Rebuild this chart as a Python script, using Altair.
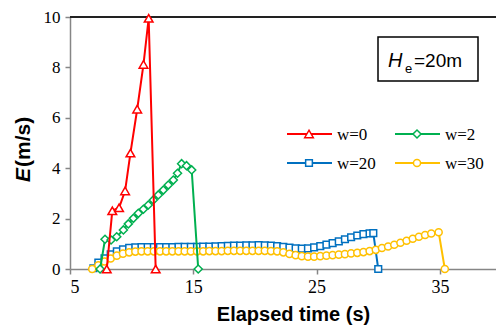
import altair as alt
import pandas as pd

# ---- data ----
t_w0 = [7.98, 8.43, 8.98, 9.47, 9.90, 10.45, 10.96, 11.38, 11.95]
e_w0 = [0.0, 2.31, 2.43, 3.10, 4.60, 6.34, 8.12, 9.95, 0.0]

t_w2 = [7.44, 7.84, 8.33, 8.79, 9.33, 9.73, 10.14, 10.54, 10.95, 11.35, 11.76,
        12.16, 12.57, 12.97, 13.38, 13.72, 14.05, 14.45, 14.87, 15.40]
e_w2 = [0.0, 1.18, 1.15, 1.28, 1.55, 1.79, 2.01, 2.21, 2.37, 2.54, 2.74,
        2.94, 3.13, 3.33, 3.53, 3.80, 4.18, 4.10, 3.93, 0.0]

t_w20 = [6.9, 7.3, 7.8, 8.3, 8.8, 9.3, 9.8, 10.3, 10.8, 11.3, 11.8, 12.3, 12.8,
         13.3, 13.8, 14.3, 14.8, 15.3, 15.8, 16.3, 16.8, 17.3, 17.8, 18.3, 18.8,
         19.3, 19.8, 20.3, 20.8, 21.3, 21.8, 22.3, 22.8, 23.3, 23.8, 24.3, 24.8,
         25.3, 25.8, 26.3, 26.8, 27.3, 27.8, 28.3, 28.8, 29.3, 29.6, 30.0]
e_w20 = [0.03, 0.25, 0.42, 0.58, 0.70, 0.78, 0.84, 0.86, 0.87, 0.87, 0.87, 0.87, 0.87,
         0.87, 0.88, 0.88, 0.88, 0.88, 0.89, 0.89, 0.90, 0.91, 0.92, 0.93, 0.93,
         0.94, 0.94, 0.95, 0.94, 0.93, 0.91, 0.88, 0.85, 0.82, 0.81, 0.82, 0.86,
         0.91, 0.97, 1.03, 1.10, 1.18, 1.26, 1.33, 1.38, 1.41, 1.42, 0.0]

t_w30 = [6.8, 7.3, 7.8, 8.3, 8.8, 9.3, 9.8, 10.3, 10.8, 11.3, 11.8, 12.3, 12.8,
         13.3, 13.8, 14.3, 14.8, 15.3, 15.8, 16.3, 16.8, 17.3, 17.8, 18.3, 18.8,
         19.3, 19.8, 20.3, 20.8, 21.3, 21.8, 22.3, 22.8, 23.3, 23.8, 24.3, 24.8,
         25.3, 25.8, 26.3, 26.8, 27.3, 27.8, 28.3, 28.8, 29.3, 29.8, 30.3, 30.8,
         31.3, 31.8, 32.3, 32.8, 33.3, 33.8, 34.3, 34.9, 35.4]
e_w30 = [0.0, 0.15, 0.30, 0.42, 0.53, 0.61, 0.66, 0.69, 0.70, 0.70, 0.70, 0.70, 0.70,
         0.70, 0.70, 0.70, 0.70, 0.70, 0.70, 0.71, 0.71, 0.71, 0.72, 0.72, 0.72,
         0.72, 0.72, 0.72, 0.72, 0.71, 0.70, 0.66, 0.60, 0.55, 0.51, 0.49, 0.49,
         0.51, 0.53, 0.55, 0.57, 0.59, 0.62, 0.64, 0.67, 0.71, 0.76, 0.83, 0.89,
         0.96, 1.04, 1.12, 1.20, 1.28, 1.35, 1.41, 1.46, 0.0]

series_names = ["w=0", "w=2", "w=20", "w=30"]
x_ticks = [5, 15, 25, 35]
y_ticks = [0, 2, 4, 6, 8, 10]

frames = []
for name, tt, ee in zip(series_names, [t_w0, t_w2, t_w20, t_w30], [e_w0, e_w2, e_w20, e_w30]):
    frames.append(pd.DataFrame({"t": tt, "E": ee, "series": name}))
df = pd.concat(frames, ignore_index=True)

# ---- styles ----
colors = {"w=0": "#FF0000", "w=2": "#00B050", "w=20": "#0070C0", "w=30": "#FFC000"}
shapes = {"w=0": "triangle-up", "w=2": "diamond", "w=20": "square", "w=30": "circle"}
sizes = {"w=0": 75, "w=2": 65, "w=20": 45, "w=30": 50}
legend_pos = {"w=0": (217, 117), "w=2": (325, 117), "w=20": (217, 146), "w=30": (325, 146)}

axis_style = dict(grid=False, domainColor="#868686", domainWidth=1.5, tickColor="#868686",
                  tickWidth=1.5, tickSize=5, labelFont="Liberation Serif",
                  labelColor="black")

xs = alt.X("t:Q", scale=alt.Scale(domain=[5, 39.55], nice=False, zero=False),
           axis=alt.Axis(values=x_ticks, title="Elapsed time (s)", titleX=223, titleY=51,
                         titleBaseline="alphabetic", titleAnchor="start", titleAlign="center",
                         titleFont="Liberation Sans", titleFontSize=20, titleFontWeight="bold",
                         titleColor="black", labelPadding=4, labelFontSize=18, **axis_style))
ys = alt.Y("E:Q", scale=alt.Scale(domain=[0, 10], nice=False),
           axis=alt.Axis(values=y_ticks, title=None, labelPadding=5, labelFontSize=17,
                         **axis_style))

dummy = pd.DataFrame({"a": [0]})
layers = []

# top border
layers.append(alt.Chart(dummy).mark_rule(color="#222222", strokeWidth=2)
              .encode(x=alt.value(0), x2=alt.value(426), y=alt.value(0)))

for name in ["w=20", "w=30", "w=2", "w=0"]:
    c = colors[name]
    sub = alt.Chart(df).transform_filter(alt.datum.series == name)
    layers.append(sub.mark_line(color=c, strokeWidth=2).encode(x=xs, y=ys))
    layers.append(sub.mark_point(shape=shapes[name], size=sizes[name], fill="white",
                                 fillOpacity=1, stroke=c, strokeWidth=1.5, opacity=1)
                  .encode(x=xs, y=ys))

# legend
for name in series_names:
    c = colors[name]
    lx, ly = legend_pos[name]
    leg = alt.Chart(pd.DataFrame({"label": [name]}))
    layers.append(leg.mark_rule(color=c, strokeWidth=2)
                  .encode(x=alt.value(lx), x2=alt.value(lx + 45), y=alt.value(ly)))
    layers.append(leg.mark_point(shape=shapes[name], size=sizes[name], fill="white",
                                 fillOpacity=1, stroke=c, strokeWidth=1.5, opacity=1)
                  .encode(x=alt.value(lx + 22), y=alt.value(ly)))
    layers.append(leg.mark_text(align="left", baseline="middle", font="Liberation Serif",
                                fontSize=17, color="black")
                  .encode(x=alt.value(lx + 50), y=alt.value(ly + 1), text="label:N"))

# He box
layers.append(alt.Chart(dummy).mark_rect(fill="white", stroke="black", strokeWidth=1.5)
              .encode(x=alt.value(308), x2=alt.value(408), y=alt.value(20), y2=alt.value(64)))
layers.append(alt.Chart(pd.DataFrame({"s": ["H"]})).mark_text(
    align="left", baseline="alphabetic", font="Liberation Sans", fontStyle="italic",
    fontSize=20, color="black").encode(x=alt.value(318), y=alt.value(50), text="s:N"))
layers.append(alt.Chart(pd.DataFrame({"s": ["e"]})).mark_text(
    align="left", baseline="alphabetic", font="Liberation Sans",
    fontSize=13, color="black").encode(x=alt.value(335), y=alt.value(56), text="s:N"))
layers.append(alt.Chart(pd.DataFrame({"s": ["=20m"]})).mark_text(
    align="left", baseline="alphabetic", font="Liberation Sans",
    fontSize=19, color="black").encode(x=alt.value(344), y=alt.value(50), text="s:N"))

# y title: italic E + (m/s)
layers.append(alt.Chart(pd.DataFrame({"s": ["E"]})).mark_text(
    align="left", baseline="alphabetic", angle=270, font="Liberation Sans", fontStyle="italic",
    fontWeight="bold", fontSize=21, color="black").encode(x=alt.value(-40), y=alt.value(165), text="s:N"))
layers.append(alt.Chart(pd.DataFrame({"s": ["(m/s)"]})).mark_text(
    align="left", baseline="alphabetic", angle=270, font="Liberation Sans",
    fontWeight="bold", fontSize=21, color="black").encode(x=alt.value(-40), y=alt.value(150), text="s:N"))

chart = alt.layer(*layers).properties(
    width=426, height=252,
    background="white",
    autosize=alt.AutoSizeParams(type="none"),
    padding={"left": 70, "top": 17, "right": 0, "bottom": 59},
).configure_view(stroke=None)

chart.save("out.html", embed_options={"renderer": "svg", "actions": False})
